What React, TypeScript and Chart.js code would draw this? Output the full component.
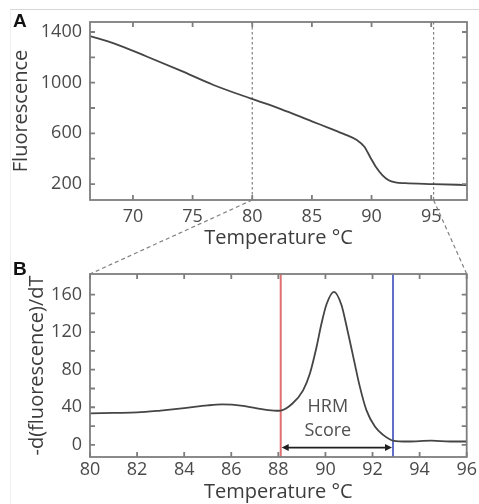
import React, { useEffect, useRef } from "react";
import { Chart, registerables } from "chart.js";
Chart.register(...registerables);

// Panel A: melt curve
const tempA = [66.4, 68.4, 71.2, 74.0, 76.7, 79.9, 82.4, 85.0, 86.5, 87.8, 88.8, 89.4, 89.9, 90.4, 90.9, 91.4, 92.0, 92.8, 95.2, 98.0];
const fluorA = [1368, 1311, 1205, 1095, 984, 874, 792, 695, 640, 590, 545, 495, 410, 330, 270, 232, 213, 207, 200, 192];
const xTicksA = [70, 75, 80, 85, 90, 95];
const yTicksA = [200, 400, 600, 800, 1000, 1200, 1400];
const yLabelsA = [200, 600, 1000, 1400];
const zoomWindowA = [80, 95.2];

// Panel B: negative derivative
const tempB = [80, 81, 82, 83, 84, 85, 85.6, 86.5, 87.3, 87.9, 88.1, 88.6, 89.05, 89.34, 89.62, 89.83, 90.05, 90.36, 90.68, 90.9, 91.18, 91.46, 91.74, 92.1, 92.45, 92.87, 93.5, 94.5, 95.3, 96];
const derivB = [33.5, 34, 34.5, 36.5, 39, 42, 43, 41.5, 38, 36.3, 36.5, 44, 58, 76, 104, 129, 150, 163, 149, 126, 94, 62, 37, 19.4, 10.6, 4.5, 3.5, 4.5, 3.5, 3.5];
const xTicksB = [80, 82, 84, 86, 88, 90, 92, 94, 96];
const yTicksB = [0, 20, 40, 60, 80, 100, 120, 140, 160];
const yLabelsB = [0, 40, 80, 120, 160];
const hrmStart = 88.1;
const hrmEnd = 92.87;
const hrmLabel = ["HRM", "Score"];

const FONT = "'Open Sans', 'DejaVu Sans', sans-serif";
const TICK_COLOR = "#4a4a4a";
const FRAME = "#7e7e7e";
const H_A = 250;
const H_B = 254;
const W = 479;

function frameTicksPlugin() {
  return {
    id: "frameTicks",
    afterDatasetsDraw(chart: any) {
      const { ctx, chartArea, scales } = chart;
      const { left, right, top, bottom } = chartArea;
      const L = 5;
      ctx.save();
      ctx.strokeStyle = FRAME;
      ctx.lineWidth = 1.8;
      ctx.beginPath();
      scales.x.ticks.forEach((t: any) => {
        const px = scales.x.getPixelForValue(t.value);
        ctx.moveTo(px, bottom); ctx.lineTo(px, bottom - L);
        ctx.moveTo(px, top); ctx.lineTo(px, top + L);
      });
      scales.y.ticks.forEach((t: any) => {
        const py = scales.y.getPixelForValue(t.value);
        ctx.moveTo(left, py); ctx.lineTo(left + L, py);
        ctx.moveTo(right, py); ctx.lineTo(right - L, py);
      });
      ctx.stroke();
      ctx.strokeRect(left, top, right - left, bottom - top);
      ctx.restore();
    },
  };
}

function baseOptions(opts: any) {
  const { xMin, xMax, yMin, yMax, xTicks, yTicks, yLabels, yTitle, yTitlePad, xPad, xHeight, topPad } = opts;
  return {
    responsive: false,
    animation: false,
    events: [],
    layout: { padding: { top: topPad, right: 12, left: 0, bottom: 0 } },
    plugins: { legend: { display: false }, tooltip: { enabled: false } },
    elements: { point: { radius: 0 } },
    scales: {
      x: {
        type: "linear",
        min: xMin,
        max: xMax,
        grid: { display: false, drawTicks: false },
        border: { display: false },
        afterBuildTicks: (s: any) => { s.ticks = xTicks.map((v: number) => ({ value: v })); },
        afterFit: (s: any) => { s.height = xHeight; },
        ticks: {
          autoSkip: false,
          maxRotation: 0,
          padding: xPad,
          color: TICK_COLOR,
          font: { family: FONT, size: 18 },
          callback: (v: any) => String(v),
        },
        title: {
          display: true,
          text: "Temperature °C",
          color: "#3c3c3c",
          font: { family: FONT, size: 20 },
          padding: { top: 0, bottom: 0 },
        },
      },
      y: {
        type: "linear",
        min: yMin,
        max: yMax,
        grid: { display: false, drawTicks: false },
        border: { display: false },
        afterBuildTicks: (s: any) => { s.ticks = yTicks.map((v: number) => ({ value: v })); },
        afterFit: (s: any) => { s.width = 90; },
        ticks: {
          autoSkip: false,
          padding: 8,
          color: TICK_COLOR,
          font: { family: FONT, size: 18 },
          callback: (v: any) => (yLabels.includes(v) ? String(v) : ""),
        },
        title: {
          display: true,
          text: yTitle,
          color: "#3c3c3c",
          font: { family: FONT, size: 20 },
          padding: { top: yTitlePad, bottom: 0 },
        },
      },
    },
  };
}

export default function App() {
  const refA = useRef<HTMLCanvasElement>(null);
  const refB = useRef<HTMLCanvasElement>(null);
  const refO = useRef<HTMLCanvasElement>(null);

  useEffect(() => {
    document.body.style.margin = "0";
    const guidesA = {
      id: "guidesA",
      beforeDatasetsDraw(chart: any) {
        const { ctx, chartArea, scales } = chart;
        ctx.save();
        ctx.strokeStyle = "#808080";
        ctx.lineWidth = 1.2;
        ctx.setLineDash([2.5, 2.5]);
        zoomWindowA.forEach((v) => {
          const px = scales.x.getPixelForValue(v);
          ctx.beginPath();
          ctx.moveTo(px, chartArea.top);
          ctx.lineTo(px, chartArea.bottom);
          ctx.stroke();
        });
        ctx.restore();
      },
    };
    const guidesB = {
      id: "guidesB",
      beforeDatasetsDraw(chart: any) {
        const { ctx, chartArea, scales } = chart;
        const xs = scales.x;
        const ys = scales.y;
        ctx.save();
        ctx.lineWidth = 2;
        ctx.strokeStyle = "#e07070";
        let px = xs.getPixelForValue(hrmStart);
        ctx.beginPath(); ctx.moveTo(px, chartArea.top); ctx.lineTo(px, chartArea.bottom); ctx.stroke();
        ctx.strokeStyle = "#6070c8";
        px = xs.getPixelForValue(hrmEnd);
        ctx.beginPath(); ctx.moveTo(px, chartArea.top); ctx.lineTo(px, chartArea.bottom); ctx.stroke();
        // arrow
        const x1 = xs.getPixelForValue(hrmStart) + 1;
        const x2 = xs.getPixelForValue(hrmEnd) - 1;
        const ay = ys.getPixelForValue(-3);
        ctx.strokeStyle = "#202020";
        ctx.fillStyle = "#202020";
        ctx.lineWidth = 1.6;
        ctx.beginPath(); ctx.moveTo(x1 + 4, ay); ctx.lineTo(x2 - 4, ay); ctx.stroke();
        ctx.beginPath(); ctx.moveTo(x1, ay); ctx.lineTo(x1 + 7, ay - 3.5); ctx.lineTo(x1 + 7, ay + 3.5); ctx.closePath(); ctx.fill();
        ctx.beginPath(); ctx.moveTo(x2, ay); ctx.lineTo(x2 - 7, ay - 3.5); ctx.lineTo(x2 - 7, ay + 3.5); ctx.closePath(); ctx.fill();
        // label
        ctx.fillStyle = "#505050";
        ctx.font = `18px ${FONT}`;
        ctx.textAlign = "center";
        ctx.textBaseline = "middle";
        const tx = xs.getPixelForValue(90.1);
        ctx.fillText(hrmLabel[0], tx, ys.getPixelForValue(40));
        ctx.fillText(hrmLabel[1], tx, ys.getPixelForValue(15));
        ctx.restore();
      },
    };

    const chartA = new Chart(refA.current as HTMLCanvasElement, {
      type: "line",
      data: {
        datasets: [{
          data: tempA.map((t, i) => ({ x: t, y: fluorA[i] })),
          borderColor: "#454545",
          borderWidth: 1.8,
          cubicInterpolationMode: "monotone",
          fill: false,
        }],
      },
      options: baseOptions({
        xMin: 66.4, xMax: 98, yMin: 74, yMax: 1479,
        xTicks: xTicksA, yTicks: yTicksA, yLabels: yLabelsA,
        yTitle: "Fluorescence", yTitlePad: 9, xPad: 6, xHeight: 50, topPad: 22,
      }) as any,
      plugins: [guidesA, frameTicksPlugin()],
    });

    const chartB = new Chart(refB.current as HTMLCanvasElement, {
      type: "line",
      data: {
        datasets: [{
          data: tempB.map((t, i) => ({ x: t, y: derivB[i] })),
          borderColor: "#454545",
          borderWidth: 1.8,
          cubicInterpolationMode: "monotone",
          fill: false,
        }],
      },
      options: baseOptions({
        xMin: 80, xMax: 96, yMin: -13, yMax: 182,
        xTicks: xTicksB, yTicks: yTicksB, yLabels: yLabelsB,
        yTitle: "-d(fluorescence)/dT", yTitlePad: 25, xPad: 2, xHeight: 47, topPad: 24,
      }) as any,
      plugins: [guidesB, frameTicksPlugin()],
    });

    // overlay: connectors and panel letters
    const o = refO.current as HTMLCanvasElement;
    const ctx = o.getContext("2d") as CanvasRenderingContext2D;
    ctx.clearRect(0, 0, W, H_A + H_B);
    ctx.save();
    ctx.strokeStyle = "#d6d6d6";
    ctx.lineWidth = 1;
    ctx.beginPath(); ctx.moveTo(10, 9.5); ctx.lineTo(W, 9.5); ctx.stroke();
    ctx.strokeStyle = "#f0f0f0";
    ctx.beginPath(); ctx.moveTo(10.5, 9.5); ctx.lineTo(10.5, H_A + H_B); ctx.stroke();
    ctx.strokeStyle = "#808080";
    ctx.lineWidth = 1.2;
    ctx.setLineDash([4, 3]);
    const aBottom = chartA.chartArea.bottom;
    const bTop = chartB.chartArea.top + H_A;
    const pairs = [
      [chartA.scales.x.getPixelForValue(zoomWindowA[0]), chartB.chartArea.left],
      [chartA.scales.x.getPixelForValue(zoomWindowA[1]), chartB.chartArea.right],
    ];
    pairs.forEach(([xa, xb]) => {
      ctx.beginPath(); ctx.moveTo(xa, aBottom); ctx.lineTo(xb, bTop); ctx.stroke();
    });
    ctx.setLineDash([]);
    ctx.fillStyle = "#111111";
    ctx.font = "bold 19px 'Liberation Sans', Arial, sans-serif";
    ctx.textBaseline = "alphabetic";
    ctx.fillText("A", 13, 27);
    ctx.fillText("B", 13, 275);
    ctx.restore();

    return () => {
      chartA.destroy();
      chartB.destroy();
    };
  }, []);

  return (
    <div style={{ position: "relative", width: W, height: H_A + H_B, background: "#ffffff" }}>
      <canvas ref={refA} width={W} height={H_A} style={{ position: "absolute", left: 0, top: 0 }} />
      <canvas ref={refB} width={W} height={H_B} style={{ position: "absolute", left: 0, top: H_A }} />
      <canvas ref={refO} width={W} height={H_A + H_B} style={{ position: "absolute", left: 0, top: 0, pointerEvents: "none" }} />
    </div>
  );
}
